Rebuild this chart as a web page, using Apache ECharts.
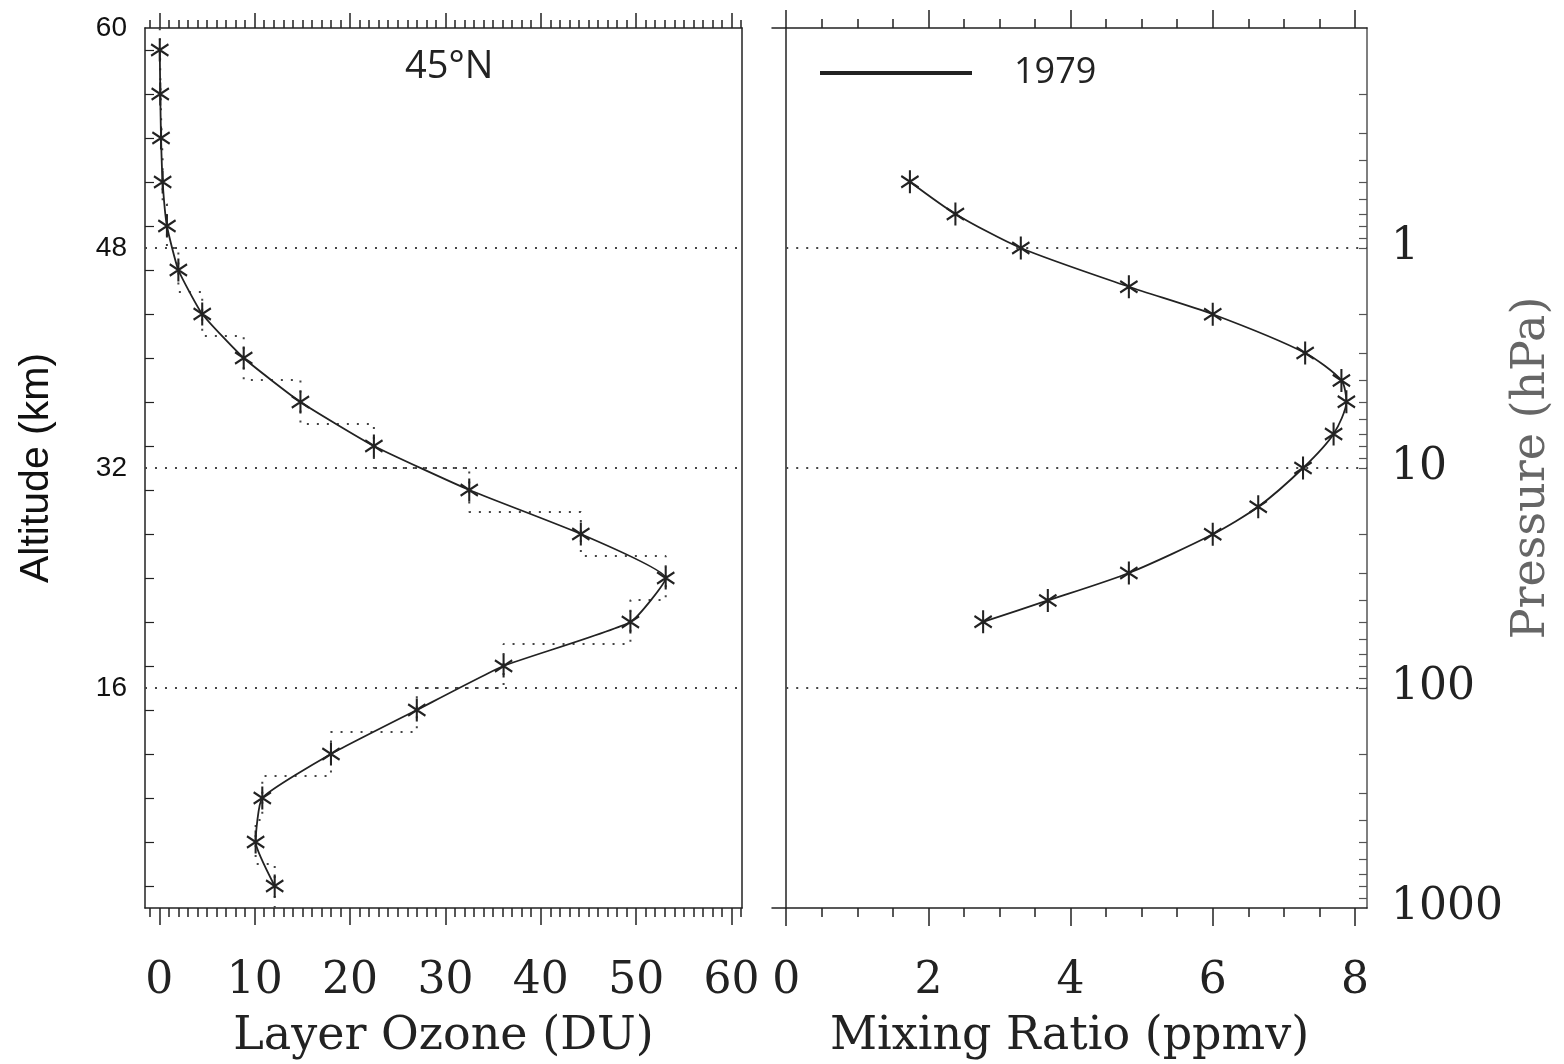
<!DOCTYPE html>
<html><head><meta charset="utf-8">
<script src="https://cdn.jsdelivr.net/npm/echarts@6/dist/echarts.min.js"></script>
<style>html,body{margin:0;padding:0;background:#fff}#c{width:1564px;height:1064px}</style>
</head><body><div id="c"></div>
<script>
// ---- data ----
const layerAlt = [1.6, 4.8, 8.0, 11.2, 14.4, 17.6, 20.8, 24.0, 27.2, 30.4, 33.6, 36.8, 40.0, 43.2, 46.4, 49.6, 52.8, 56.0, 59.2, 62.4];
const layerDU  = [12.1, 10.1, 10.8, 18.0, 27.0, 36.1, 49.4, 53.1, 44.2, 32.5, 22.5, 14.8, 8.85, 4.5, 2.0, 0.8, 0.35, 0.18, 0.1, 0.05];
const stepDU   = [12.1, 10.1, 10.8, 18.0, 27.0, 36.1, 49.4, 53.1, 44.2, 32.5, 22.5, 14.8, 8.85, 4.5, 2.0, 0.8, 0.35, 0.18, 0.1, 0.05];
const layerBottom = [0, 3.2, 6.4, 9.6, 12.8, 16.0, 19.2, 22.4, 25.6, 28.8, 32.0, 35.2, 38.4, 41.6, 44.8, 48.0, 51.2, 54.4, 57.6, 60.8];
const layerTop    = [3.2, 6.4, 9.6, 12.8, 16.0, 19.2, 22.4, 25.6, 28.8, 32.0, 35.2, 38.4, 41.6, 44.8, 48.0, 51.2, 54.4, 57.6, 60.8, 64.0];

const pressureLevels = [0.5, 0.7, 1, 1.5, 2, 3, 4, 5, 7, 10, 15, 20, 30, 40, 50];
const mixingRatio    = [1.74, 2.38, 3.30, 4.82, 6.0, 7.30, 7.81, 7.88, 7.70, 7.27, 6.64, 6.0, 4.82, 3.68, 2.77];

const refAlt = [16, 32, 48];
const altLabelValues = [16, 32, 48, 64];
const altLabels = ['16', '32', '48', '60'];
const duMajor = [0, 10, 20, 30, 40, 50, 60];
const duLabels = ['0', '10', '20', '30', '40', '50', '60'];
const mrMajor = [0, 2, 4, 6, 8];
const mrLabels = ['0', '2', '4', '6', '8'];
const pLabelValues = [1, 10, 100, 1000];
const pLabels = ['1', '10', '100', '1000'];
const pTickValues = [0.2,0.3,0.4,0.5,0.6,0.7,0.8,0.9,1,2,3,4,5,6,7,8,9,10,20,30,40,50,60,70,80,90,100,200,300,400,500,600,700,800,900];

// ---- axis helpers ----
const DU_MIN = -1.5, DU_MAX = 61.1, MR_MIN = -0.2, MR_MAX = 8.17, ALT_MIN = 0, ALT_MAX = 64;
const pToAlt = p => 16 * (3 - Math.log10(p));   // log-pressure vertical scale
const range = (a, b, s) => { const r = []; for (let v = a; v <= b + 1e-9; v += s) r.push(+v.toFixed(3)); return r; };
const duMinor = range(-1, 61, 1);
const mrMinor = range(0, 8, 0.5);

const INK = '#222';
const serif = 'DejaVu Serif';

function xAx(grid, pos, min, max, o) {
  return {
    type: 'value', gridIndex: grid, position: pos, min, max,
    axisLine: { show: !!o.line, onZero: false, lineStyle: { color: INK, width: 1.5 } },
    axisTick: { show: true, inside: false, length: o.len, customValues: o.ticks, lineStyle: { color: INK, width: 1.5 } },
    axisLabel: o.labels ? {
      show: true, customValues: o.labels.values, margin: 52,
      formatter: v => o.labels.text[o.labels.values.findIndex(t => Math.abs(t - v) < 1e-6)] ?? '',
      fontFamily: serif, fontSize: 44, color: INK
    } : { show: false },
    splitLine: { show: false },
    name: o.name || '', nameLocation: 'middle', nameGap: 106,
    nameTextStyle: { fontFamily: serif, fontSize: 46, color: INK }
  };
}

const chart = echarts.init(document.getElementById('c'), null, { renderer: 'canvas' });

const starPath = 'path://M0,-10L0,10M-8.66,-5L8.66,5M-8.66,5L8.66,-5';

const stepData = [];
stepDU.forEach((v, i) => { stepData.push([v, layerBottom[i]]); stepData.push([v, layerTop[i]]); });

const dotted = { color: '#444', width: 2, type: [2, 8] };

chart.setOption({
  animation: false,
  backgroundColor: '#fff',
  title: {
    text: '45°N', left: 405, top: 48, padding: 0,
    textStyle: { fontFamily: 'Open Sans', fontSize: 38, fontWeight: 'normal', color: INK }
  },
  legend: {
    data: [{ name: '1979', icon: 'rect' }],
    left: 820, top: 55, padding: 0, itemWidth: 150, itemHeight: 2,
    itemStyle: { color: INK },
    textStyle: { fontFamily: 'Open Sans', fontSize: 36, color: INK, padding: [0, 0, 0, 38] },
    selectedMode: false
  },
  grid: [
    { left: 145, top: 28, width: 597, height: 880, containLabel: false, outerBoundsMode: 'none' },
    { left: 772, top: 28, width: 595, height: 880, containLabel: false, outerBoundsMode: 'none' }
  ],
  xAxis: [
    xAx(0, 'bottom', DU_MIN, DU_MAX, { line: true, ticks: duMajor, len: 17, labels: { values: duMajor, text: duLabels }, name: 'Layer Ozone (DU)' }),
    xAx(0, 'bottom', DU_MIN, DU_MAX, { ticks: duMinor, len: 9 }),
    xAx(0, 'top', DU_MIN, DU_MAX, { line: true, ticks: duMajor, len: 15 }),
    xAx(0, 'top', DU_MIN, DU_MAX, { ticks: duMinor, len: 8 }),
    xAx(1, 'bottom', MR_MIN, MR_MAX, { line: true, ticks: mrMajor, len: 18, labels: { values: mrMajor, text: mrLabels }, name: 'Mixing Ratio (ppmv)' }),
    xAx(1, 'bottom', MR_MIN, MR_MAX, { ticks: mrMinor, len: 9 }),
    xAx(1, 'top', MR_MIN, MR_MAX, { line: true, ticks: mrMajor, len: 18 }),
    xAx(1, 'top', MR_MIN, MR_MAX, { ticks: mrMinor, len: 9 })
  ],
  yAxis: [
    {
      type: 'value', gridIndex: 0, position: 'left', min: ALT_MIN, max: ALT_MAX,
      axisLine: { show: true, onZero: false, lineStyle: { color: INK, width: 1.5 } },
      axisTick: { show: true, inside: true, length: 9, customValues: layerAlt, lineStyle: { color: INK, width: 1.2 } },
      axisLabel: {
        show: true, customValues: altLabelValues, margin: 18,
        formatter: v => altLabels[altLabelValues.indexOf(v)] ?? '',
        fontFamily: 'Liberation Sans', fontSize: 28, color: '#111'
      },
      splitLine: { show: false },
      name: 'Altitude (km)', nameLocation: 'middle', nameGap: 88,
      nameTextStyle: { fontFamily: 'Liberation Sans', fontSize: 41, color: '#111' }
    },
    {
      type: 'value', gridIndex: 0, position: 'right', min: ALT_MIN, max: ALT_MAX,
      axisLine: { show: true, onZero: false, lineStyle: { color: INK, width: 1.5 } },
      axisTick: { show: false }, axisLabel: { show: false }, splitLine: { show: false }
    },
    {
      type: 'value', gridIndex: 1, position: 'left', min: ALT_MIN, max: ALT_MAX,
      axisLine: { show: true, onZero: true, lineStyle: { color: INK, width: 1.5 } },
      axisTick: { show: false }, axisLabel: { show: false }, splitLine: { show: false }
    },
    {
      type: 'value', gridIndex: 1, position: 'right', min: ALT_MIN, max: ALT_MAX,
      axisLine: { show: true, onZero: false, lineStyle: { color: '#555', width: 1.5 } },
      axisTick: { show: true, inside: true, length: 8, customValues: pTickValues.map(pToAlt), lineStyle: { color: '#555', width: 1.2 } },
      axisLabel: {
        show: true, customValues: pLabelValues.map(pToAlt), margin: 24,
        formatter: v => pLabels[pLabelValues.findIndex(p => Math.abs(pToAlt(p) - v) < 1e-6)] ?? '',
        fontFamily: serif, fontSize: 44, color: INK
      },
      splitLine: { show: false },
      name: 'Pressure (hPa)', nameLocation: 'middle', nameGap: 142,
      nameTextStyle: { fontFamily: serif, fontSize: 46, color: '#666' }
    }
  ],
  series: [
    {
      name: 'layer-steps', type: 'line', xAxisIndex: 0, yAxisIndex: 0,
      data: stepData, showSymbol: false, symbol: 'none', silent: true, z: 1,
      lineStyle: dotted,
      markLine: {
        silent: true, symbol: ['none', 'none'], label: { show: false },
        lineStyle: dotted, data: refAlt.map(v => ({ yAxis: v }))
      }
    },
    {
      name: 'Layer Ozone', type: 'line', xAxisIndex: 0, yAxisIndex: 0,
      data: layerDU.map((v, i) => [v, layerAlt[i]]),
      symbol: starPath, symbolSize: [20, 23], symbolKeepAspect: true,
      itemStyle: { color: INK, borderColor: INK, borderWidth: 2.2 },
      lineStyle: { color: INK, width: 1.8 }, smooth: 0.15, z: 3,
      emphasis: { disabled: true }
    },
    {
      name: '1979', type: 'line', xAxisIndex: 4, yAxisIndex: 2,
      data: mixingRatio.map((v, i) => [v, pToAlt(pressureLevels[i])]),
      symbol: starPath, symbolSize: [20, 23], symbolKeepAspect: true,
      itemStyle: { color: INK, borderColor: INK, borderWidth: 2.2 },
      lineStyle: { color: INK, width: 1.8 }, smooth: 0.25, z: 3,
      emphasis: { disabled: true },
      markLine: {
        silent: true, symbol: ['none', 'none'], label: { show: false },
        lineStyle: dotted,
        data: refAlt.map(v => [{ coord: [0, v] }, { coord: [MR_MAX, v] }])
      }
    }
  ]
});
</script>
</body></html>
